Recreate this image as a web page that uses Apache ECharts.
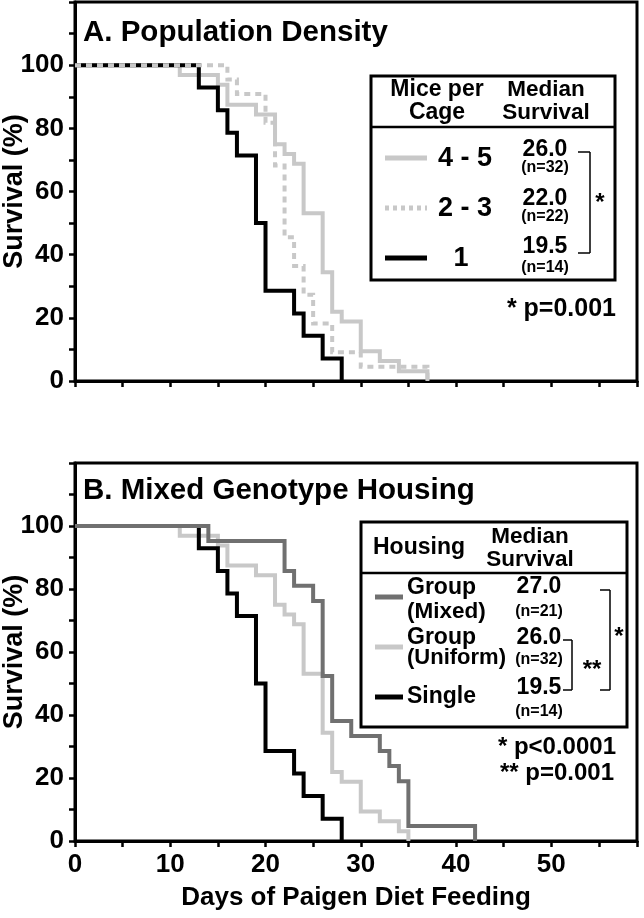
<!DOCTYPE html>
<html>
<head>
<meta charset="utf-8">
<title>Survival curves</title>
<script src="https://cdn.jsdelivr.net/npm/echarts@6/dist/echarts.min.js"></script>
<style>html,body{margin:0;padding:0;background:#fff;}</style>
</head>
<body>
<div id="box" style="width:644px;height:918px;"></div>
<script>
// --- A. Population density ---
var daysSingle = [0, 13, 15, 16, 17, 19, 20, 23, 24, 26, 28];
var survSingle = [100, 92.9, 85.7, 78.6, 71.4, 50, 28.6, 21.4, 14.3, 7.1, 0];
var days45 = [0, 11, 15, 16, 19, 21, 22, 23, 24, 26, 27, 28, 30, 32, 34, 37];
var surv45 = [100, 96.9, 93.8, 87.5, 84.4, 75, 71.9, 68.8, 53.1, 34.4, 21.9, 18.8, 9.4, 6.3, 3.1, 0];
var days23 = [0, 16, 17, 20, 21, 22, 23, 24, 25, 27, 30, 37];
var surv23 = [100, 95.5, 90.9, 81.8, 68.2, 45.5, 36.4, 27.3, 18.2, 9.1, 4.5, 0];
// --- B. Mixed genotype housing ---
var daysMixed = [0, 14, 22, 23, 25, 26, 27, 29, 32, 33, 34, 35, 42];
var survMixed = [100, 95.2, 85.7, 81, 76.2, 52.4, 38.1, 33.3, 28.6, 23.8, 19, 4.8, 0];
var daysUniform = [0, 11, 15, 16, 19, 21, 22, 23, 24, 26, 27, 28, 30, 32, 34, 35];
var survUniform = [100, 96.9, 93.8, 87.5, 84.4, 75, 71.9, 68.8, 53.1, 34.4, 21.9, 18.8, 9.4, 6.3, 3.1, 0];

var xTicks = [0, 10, 20, 30, 40, 50];
var yTicks = [0, 20, 40, 60, 80, 100];

var FONT = '"Liberation Sans", Arial, sans-serif';
var LIGHT = '#c8c8c8', MID = '#707070', DARK = '#000';

function pairs(xs, ys) {
    return xs.map(function (x, i) { return [x, ys[i]]; });
}

function stepLine(name, xs, ys, idx, color, dash) {
    return {
        name: name, type: 'line', step: 'end',
        xAxisIndex: idx, yAxisIndex: idx,
        data: pairs(xs, ys),
        symbol: 'none', silent: true,
        lineStyle: {color: color, width: 4, type: dash || 'solid', cap: 'butt', join: 'miter'}
    };
}

function xAxisCfg(idx, labels) {
    return {
        type: 'value', gridIndex: idx, min: 0, max: 59, interval: 10,
        name: labels ? 'Days of Paigen Diet Feeding' : '',
        nameLocation: 'middle', nameGap: 44,
        nameTextStyle: {fontFamily: FONT, fontWeight: 'bold', fontSize: 26, color: '#000'},
        axisLine: {show: true, lineStyle: {color: '#000', width: 3}},
        axisTick: {show: true, length: 6, lineStyle: {color: '#000', width: 2.5}},
        minorTick: {show: true, splitNumber: 2, length: 6, lineStyle: {color: '#000', width: 2.5}},
        splitLine: {show: false},
        axisLabel: {
            show: labels, margin: 11,
            fontFamily: FONT, fontWeight: 'bold', fontSize: 26, color: '#000',
            formatter: function (v) { return xTicks.indexOf(v) >= 0 ? String(v) : ''; }
        }
    };
}

function yAxisCfg(idx) {
    return {
        type: 'value', gridIndex: idx, min: 0, max: 120, interval: 20,
        name: 'Survival (%)', nameLocation: 'middle', nameGap: 47, nameMoveOverlap: false,
        nameTextStyle: {fontFamily: FONT, fontWeight: 'bold', fontSize: 27, color: '#000'},
        axisLine: {show: true, lineStyle: {color: '#000', width: 3}},
        axisTick: {show: true, length: 6, lineStyle: {color: '#000', width: 2.5}},
        minorTick: {show: true, splitNumber: 2, length: 6, lineStyle: {color: '#000', width: 2.5}},
        splitLine: {show: false},
        axisLabel: {
            margin: 11, fontFamily: FONT, fontWeight: 'bold', fontSize: 26, color: '#000',
            formatter: function (v) { return yTicks.indexOf(v) >= 0 ? String(v) : ''; }
        }
    };
}

function txt(s, x, y, size, align) {
    return {
        type: 'text', silent: true, z: 100,
        style: {
            text: s, x: x, y: y, fill: '#000',
            font: 'bold ' + size + 'px ' + FONT,
            textAlign: align || 'center', align: align || 'center',
            textVerticalAlign: 'middle', verticalAlign: 'middle'
        }
    };
}
function seg(x1, y1, x2, y2, color, w, dash) {
    return {
        type: 'line', silent: true, z: 100,
        shape: {x1: x1, y1: y1, x2: x2, y2: y2},
        style: {stroke: color, lineWidth: w, lineDash: dash || null}
    };
}
function box(x, y, w, h) {
    return {
        type: 'rect', silent: true, z: 90,
        shape: {x: x, y: y, width: w, height: h},
        style: {fill: '#fff', stroke: '#000', lineWidth: 3}
    };
}

var graphics = [
    // panel A
    txt('A. Population Density', 83, 33, 29.5, 'left'),
    box(371, 76, 244, 204),
    seg(371, 127, 615, 127, '#000', 2.5),
    txt('Mice per', 437, 90, 23), txt('Cage', 437, 113, 23),
    txt('Median', 546, 90, 22.5), txt('Survival', 546, 113, 22.5),
    seg(385, 158, 427, 158, LIGHT, 5),
    seg(385, 208, 427, 208, LIGHT, 5, [4, 4]),
    seg(385, 258, 427, 258, DARK, 5),
    txt('4 - 5', 465, 159, 27), txt('2 - 3', 465, 209, 27), txt('1', 461, 259, 27),
    txt('26.0', 545, 150, 23), txt('(n=32)', 545, 168, 16),
    txt('22.0', 545, 199, 23), txt('(n=22)', 545, 217, 16),
    txt('19.5', 545, 247, 23), txt('(n=14)', 545, 268, 16),
    seg(578, 152, 590, 152, '#000', 1.5), seg(590, 152, 590, 253, '#000', 1.5),
    seg(578, 253, 590, 253, '#000', 1.5),
    txt('*', 600, 203, 24),
    txt('* p=0.001', 616, 309, 25, 'right'),
    // panel B
    txt('B. Mixed Genotype Housing', 83, 491, 29.5, 'left'),
    box(361, 522, 266, 205),
    seg(361, 573, 627, 573, '#000', 2.5),
    txt('Housing', 419, 548, 23),
    txt('Median', 530, 537, 22.5), txt('Survival', 530, 560, 22.5),
    seg(375, 597, 403, 597, MID, 5),
    seg(375, 647, 403, 647, LIGHT, 5),
    seg(375, 697, 403, 697, DARK, 5),
    txt('Group', 407, 588, 23, 'left'), txt('(Mixed)', 407, 612, 22.5, 'left'),
    txt('Group', 407, 638, 23, 'left'), txt('(Uniform)', 407, 658, 22, 'left'),
    txt('Single', 407, 697, 23, 'left'),
    txt('27.0', 539, 587, 23), txt('(n=21)', 539, 612, 16),
    txt('26.0', 539, 638, 23), txt('(n=32)', 539, 660, 16),
    txt('19.5', 539, 688, 23), txt('(n=14)', 539, 712, 16),
    seg(563, 640, 572, 640, '#000', 1.5), seg(572, 640, 572, 690, '#000', 1.5),
    seg(563, 690, 572, 690, '#000', 1.5),
    txt('**', 592, 670, 24),
    seg(600, 590, 610, 590, '#000', 1.5), seg(610, 590, 610, 690, '#000', 1.5),
    seg(600, 690, 610, 690, '#000', 1.5),
    txt('*', 619, 637, 24),
    txt('* p<0.0001', 616, 747, 24, 'right'),
    txt('** p=0.001', 614, 773, 24, 'right')
];

var myChart = echarts.init(document.getElementById('box'), null, {renderer: 'canvas'});
var option = {
    animation: false,
    backgroundColor: '#fff',
    grid: [
        {left: 75, top: 2, width: 562, height: 379, containLabel: false, outerBoundsMode: 'none',
            show: true, borderColor: '#000', borderWidth: 3, backgroundColor: 'transparent'},
        {left: 75, top: 463, width: 562, height: 378, containLabel: false, outerBoundsMode: 'none',
            show: true, borderColor: '#000', borderWidth: 3, backgroundColor: 'transparent'}
    ],
    xAxis: [xAxisCfg(0, false), xAxisCfg(1, true)],
    yAxis: [yAxisCfg(0), yAxisCfg(1)],
    series: [
        stepLine('4 - 5', days45, surv45, 0, LIGHT),
        stepLine('1', daysSingle, survSingle, 0, DARK),
        stepLine('2 - 3', days23, surv23, 0, LIGHT, [6, 5]),
        stepLine('Group (Uniform)', daysUniform, survUniform, 1, LIGHT),
        stepLine('Single', daysSingle, survSingle, 1, DARK),
        stepLine('Group (Mixed)', daysMixed, survMixed, 1, MID)
    ],
    graphic: graphics
};
myChart.setOption(option);
</script>
</body>
</html>
